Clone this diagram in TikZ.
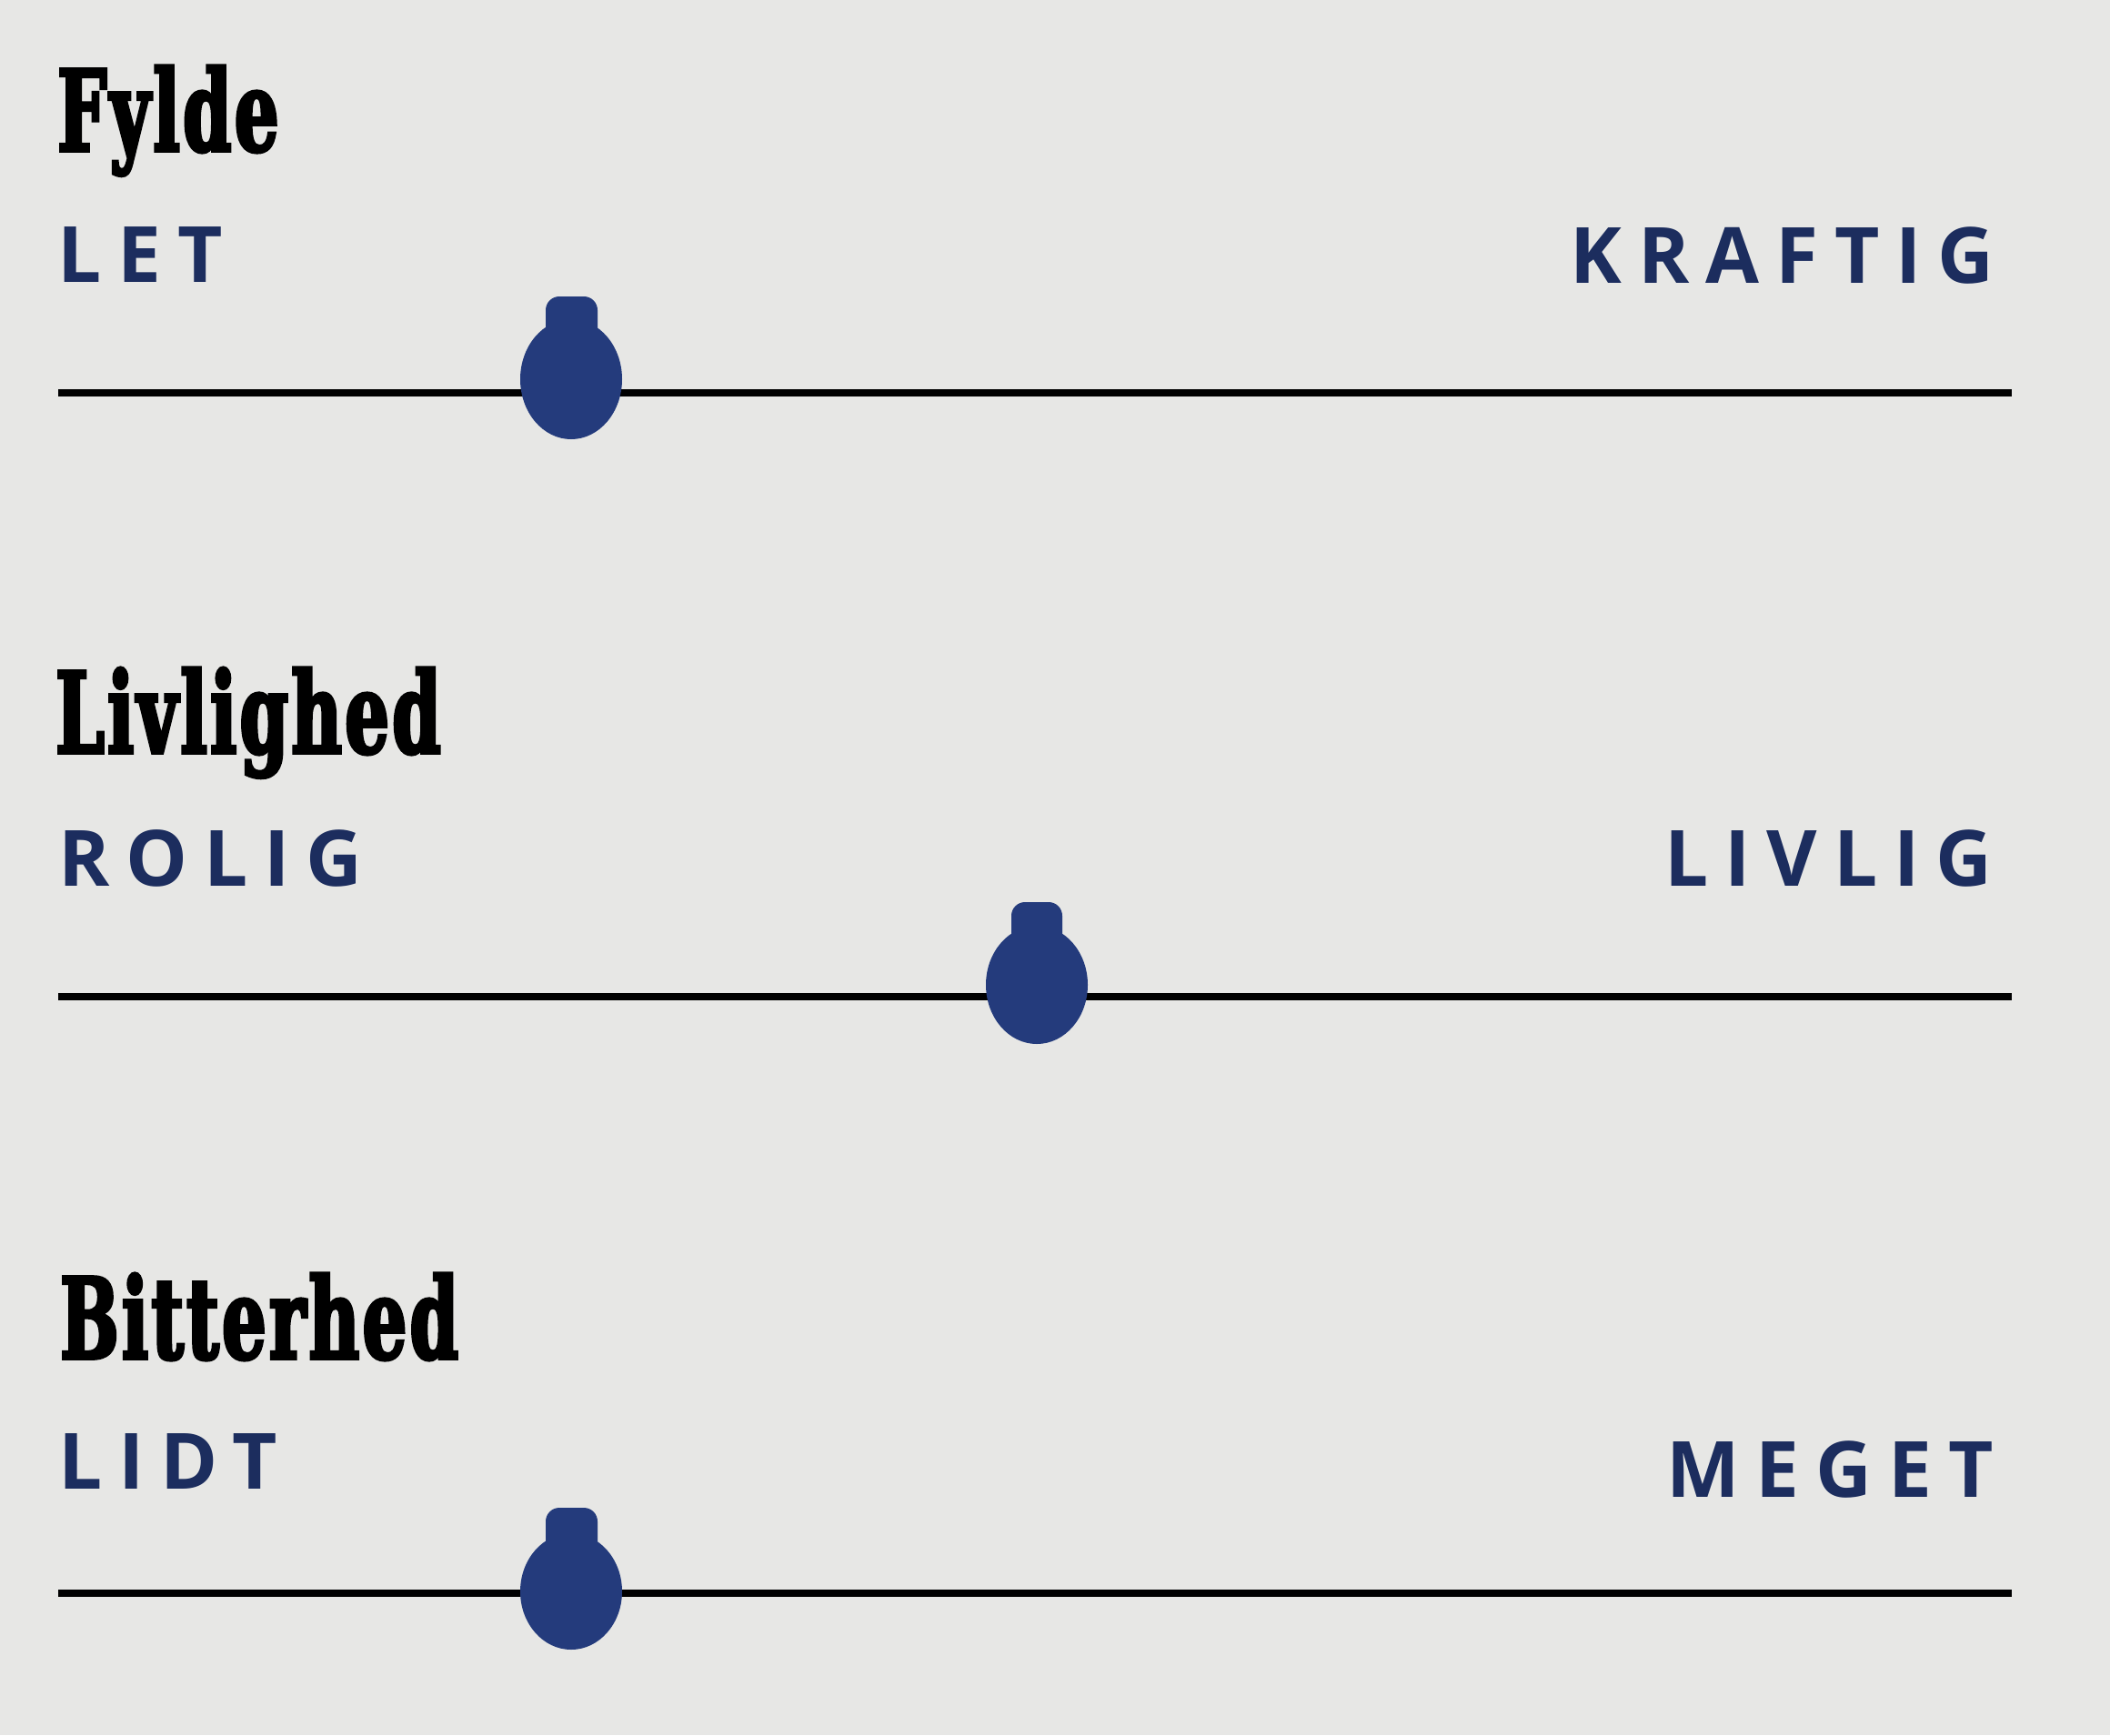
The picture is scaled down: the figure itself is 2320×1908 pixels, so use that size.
\documentclass[tikz,border=0pt]{standalone}
\usepackage{fontspec}
\newfontfamily\titlefont[FakeStretch=0.615,FakeBold=3,LetterSpace=3]{DejaVu Serif}
\newfontfamily\endlabelfont[LetterSpace=21]{Open Sans}

\begin{document}
\begin{tikzpicture}[x=0.5pt,y=0.5pt,yscale=-1,xscale=1,
  title/.style={anchor=base west,inner sep=0pt,font=\titlefont\bfseries\fontsize{61.7}{70}\selectfont},
  lowend/.style={anchor=base west,inner sep=0pt,text={rgb, 255:red, 28; green, 45; blue, 94},font=\endlabelfont\bfseries\fontsize{42.7}{50}\selectfont},
  highend/.style={lowend,anchor=base east},
  rail/.style={line width=4pt},
  knob/.style={fill={rgb, 255:red, 36; green, 59; blue, 124}}]

%Background
\fill[fill={rgb, 255:red, 231; green, 231; blue, 229}] (0,0) rectangle (2320,1908);
\useasboundingbox (0,0) rectangle (2320,1908);

%Straight Lines [rails]
\coordinate (rail1a) at (64,432);
\coordinate (rail1b) at (2212,432);
\draw[rail] (rail1a) -- (rail1b);
\coordinate (rail2a) at (64,1096);
\coordinate (rail2b) at (2212,1096);
\draw[rail] (rail2a) -- (rail2b);
\coordinate (rail3a) at (64,1752);
\coordinate (rail3b) at (2212,1752);
\draw[rail] (rail3a) -- (rail3b);

%Shape: Knob [Fylde]
\fill[knob] (628,417) ellipse [x radius=56,y radius=66];
\fill[knob,rounded corners=7.5pt] (600,326) rectangle (657,385);
%Shape: Knob [Livlighed]
\fill[knob] (1140,1083) ellipse [x radius=56,y radius=65];
\fill[knob,rounded corners=7.5pt] (1112,992) rectangle (1168,1050);
%Shape: Knob [Bitterhed]
\fill[knob] (628,1750) ellipse [x radius=56,y radius=64];
\fill[knob,rounded corners=7.5pt] (600,1658) rectangle (657,1716);

% Text Node
\node[title] (fylde) at (63,166) {Fylde};
\node[lowend] (let) at (63,310) {LET};
\node[highend] (kraftig) at (2193,311) {KRAFTIG};
% Text Node
\node[title] (livlighed) at (61,828) {Livlighed};
\node[lowend] (rolig) at (64,974) {ROLIG};
\node[highend] (livlig) at (2191,974) {LIVLIG};
% Text Node
\node[title] (bitterhed) at (66,1494) {Bitterhed};
\node[lowend] (lidt) at (64,1637) {LIDT};
\node[highend] (meget) at (2192,1646) {MEGET};

\end{tikzpicture}
\end{document}
